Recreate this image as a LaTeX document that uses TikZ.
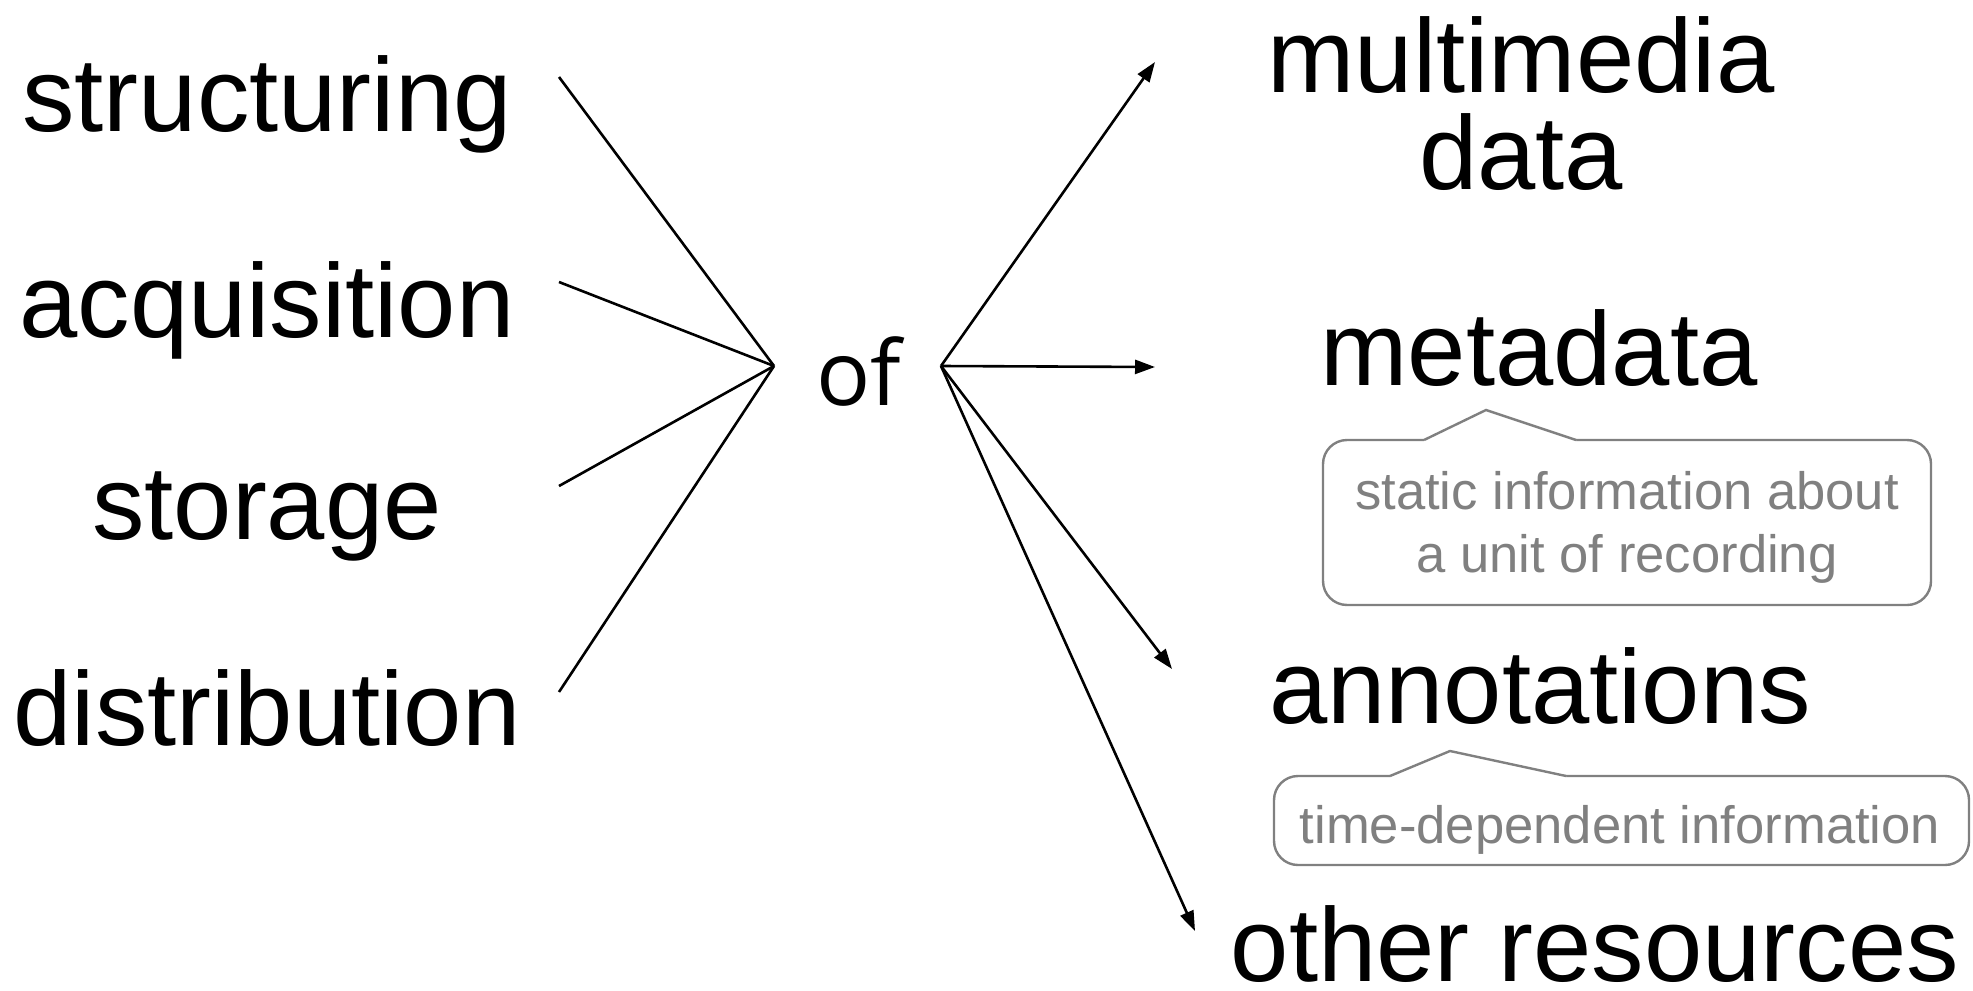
\documentclass[tikz,border=0pt]{standalone}
\usepackage{fontspec}
\setmainfont{Liberation Sans}
\newfontfamily\offont{Open Sans}
\usepackage{tikz}
\usetikzlibrary{arrows.meta}
\definecolor{notegray}{RGB}{128,128,128}

\begin{document}
\begin{tikzpicture}[x=0.5pt, y=-0.5pt,
  word/.style={anchor=base, inner sep=0pt, align=center, font=\fontsize{52.4}{48.5}\selectfont},
  notetext/.style={anchor=base, inner sep=0pt, align=center, text=notegray, font=\fontsize{26.3}{31.5}\selectfont},
  notebox/.style={draw=notegray, line width=1.2pt, rounded corners=12pt},
  noteline/.style={draw=notegray, line width=1.2pt, line join=miter},
  link/.style={line width=1.3pt},
  arr/.style={line width=1.3pt, -{Triangle[length=10pt,width=7pt]}}]
\useasboundingbox (0,0) rectangle (1973,990);

% what is done
\node[word] (structuring) at (267,131) {structuring};
\node[word] (acquisition) at (267,337) {acquisition};
\node[word] (storage) at (267,539) {storage};
\node[word] (distribution) at (267,745) {distribution};

% hub
\node[anchor=base, inner sep=0pt, font=\offont\fontsize{45}{45}\selectfont] (of) at (859,405) {of};
\coordinate (in) at (774,366);
\coordinate (out) at (941,366);

% to what (base = last line)
\node[word] (multimedia) at (1521,189) {multimedia\\data};
\node[word] (metadata) at (1539,385) {metadata};
\node[word] (annotations) at (1540,723) {annotations};
\node[word] (other) at (1595,981) {other resources};

% line ends
\coordinate (structuring-end) at (559,77);
\coordinate (acquisition-end) at (559,282);
\coordinate (storage-end) at (559,486);
\coordinate (distribution-end) at (559,692);
\coordinate (multimedia-tip) at (1155,62);
\coordinate (metadata-tip) at (1155,367);
\coordinate (annotations-tip) at (1172,669);
\coordinate (other-tip) at (1195,931);

\draw[link] (structuring-end) -- (in);
\draw[link] (acquisition-end) -- (in);
\draw[link] (storage-end) -- (in);
\draw[link] (distribution-end) -- (in);

\draw[arr] (out) -- (multimedia-tip);
\draw[arr] (out) -- (metadata-tip);
\draw[arr] (out) -- (annotations-tip);
\draw[arr] (out) -- (other-tip);

% callout for metadata
\draw[notebox] (1323,440) rectangle (1931,605);
\fill[white] (1424,443) -- (1424,440) -- (1486,410) -- (1576,440) -- (1576,443) -- cycle;
\draw[noteline] (1424,440) -- (1486,410) -- (1576,440);
\node[notetext] (metanote) at (1627,572) {static information about\\a unit of recording};

% callout for annotations
\draw[notebox] (1274,776) rectangle (1969,865);
\fill[white] (1390,779) -- (1390,776) -- (1450,751) -- (1566,776) -- (1566,779) -- cycle;
\draw[noteline] (1390,776) -- (1450,751) -- (1566,776);
\node[notetext] (annonote) at (1620,843) {time-dependent information};
\end{tikzpicture}
\end{document}
